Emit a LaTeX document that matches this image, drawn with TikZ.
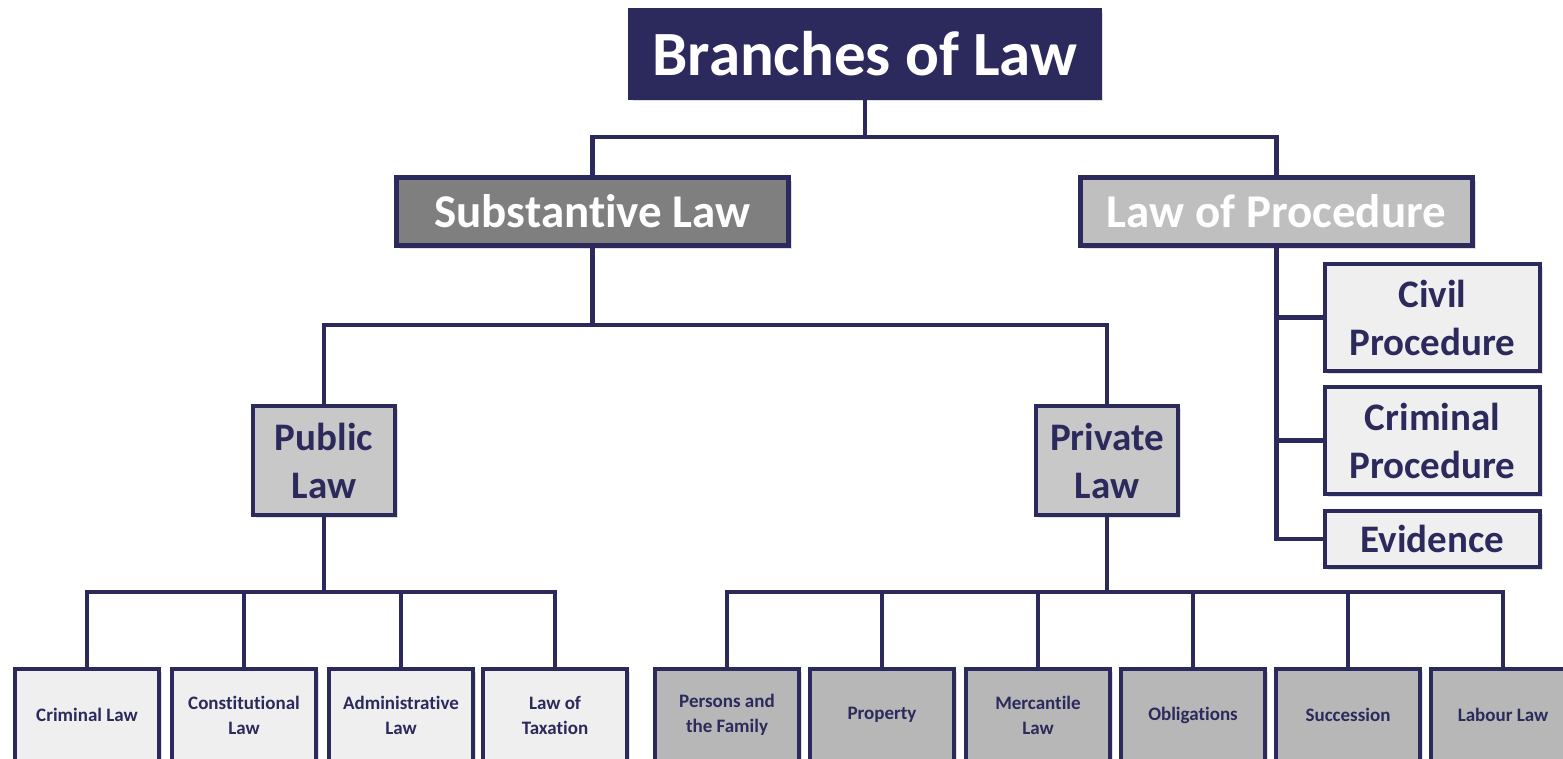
\documentclass[tikz,border=0pt]{standalone}
\usepackage{fontspec}
\setmainfont[Ligatures=NoCommon]{Carlito}
\usetikzlibrary{shadows}
\definecolor{navy}{RGB}{44,42,92}
\definecolor{gDark}{RGB}{127,127,127}
\definecolor{gProc}{RGB}{191,191,191}
\definecolor{gMid}{RGB}{200,200,200}
\definecolor{gLight}{RGB}{239,239,239}
\definecolor{gRight}{RGB}{183,183,183}
\tikzset{
  box/.style={draw=navy, line width=4pt, align=center, inner sep=0pt, font=\bfseries,
    drop shadow={opacity=0.25, shadow xshift=3pt, shadow yshift=-3pt}},
  titlebox/.style={box, fill=navy, text=white, minimum width=470, minimum height=88,
    font=\bfseries\fontsize{63}{66}\selectfont},
  secbox/.style={box, line width=5pt, text=white, minimum width=392, minimum height=68,
    font=\bfseries\fontsize{47}{50}\selectfont},
  midbox/.style={box, fill=gMid, text=navy, minimum width=142, minimum height=109,
    font=\bfseries\fontsize{39}{48}\selectfont},
  procbox/.style={box, fill=gLight, text=navy, minimum width=215,
    font=\bfseries\fontsize{39}{48}\selectfont},
  leafbox/.style={box, text=navy, minimum width=144, minimum height=92,
    font=\bfseries\fontsize{19}{25}\selectfont},
  leafL/.style={leafbox, fill=gLight},
  leafR/.style={leafbox, fill=gRight},
  conn/.style={draw=navy, line width=4.5pt},
}
\begin{document}
\begin{tikzpicture}[x=1pt,y=-1pt]
\useasboundingbox (0,0) rectangle (1563,758);
\clip (0,0) rectangle (1563,758);
% nodes
\node[titlebox] (title) at (865,54) {Branches of Law};
\node[secbox, fill=gDark] (sub) at (592.5,211.5) {Substantive Law};
\node[secbox, fill=gProc] (proc) at (1276.5,211.5) {Law of Procedure};
\node[midbox] (public) at (324,460.5) {Public\\Law};
\node[midbox] (private) at (1107,460.5) {Private\\Law};
\node[procbox, minimum height=107] (civil) at (1432.5,317.5) {Civil\\Procedure};
\node[procbox, minimum height=107] (crimp) at (1432.5,440.5) {Criminal\\Procedure};
\node[procbox, minimum height=56] (evid) at (1432.5,539) {Evidence};
\node[leafL] (l1) at (87,715) {Criminal Law};
\node[leafL] (l2) at (244,715) {Constitutional\\Law};
\node[leafL] (l3) at (401,715) {Administrative\\Law};
\node[leafL] (l4) at (555,715) {Law of\\Taxation};
\node[leafR] (r1) at (727,715) {Persons and\\the Family};
\node[leafR] (r2) at (882,715) {Property};
\node[leafR] (r3) at (1038,715) {Mercantile\\Law};
\node[leafR] (r4) at (1193,715) {Obligations};
\node[leafR] (r5) at (1348,715) {Succession};
\node[leafR] (r6) at (1503,715) {Labour Law};
% bus coordinates
\coordinate (bus1) at (865,137);
\coordinate (bus2) at (592.5,325);
\coordinate (bus3) at (324,592);
\coordinate (bus4) at (1107,592);
% connectors
\draw[conn] (title.south) -- (bus1);
\draw[conn] (sub.north) |- (bus1) -| (proc.north);
\draw[conn] (sub.south) -- (bus2);
\draw[conn] (public.north) |- (bus2) -| (private.north);
\draw[conn] (public.south) -- (bus3);
\draw[conn] (l1.north) |- (bus3) -| (l4.north);
\draw[conn] (l2.north) -- (l2.north |- bus3);
\draw[conn] (l3.north) -- (l3.north |- bus3);
\draw[conn] (private.south) -- (bus4);
\draw[conn] (r1.north) |- (bus4) -| (r6.north);
\draw[conn] (r2.north) -- (r2.north |- bus4);
\draw[conn] (r3.north) -- (r3.north |- bus4);
\draw[conn] (r4.north) -- (r4.north |- bus4);
\draw[conn] (r5.north) -- (r5.north |- bus4);
\draw[conn] (proc.south) |- (evid.west);
\draw[conn] (civil.west) -- (civil.west -| proc.south);
\draw[conn] (crimp.west) -- (crimp.west -| proc.south);
\end{tikzpicture}
\end{document}
